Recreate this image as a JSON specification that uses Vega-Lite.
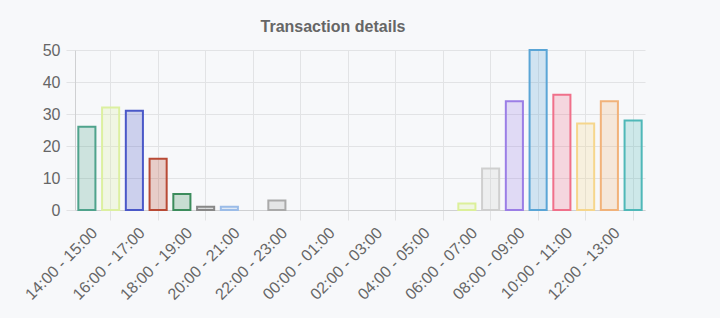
{
  "$schema": "https://vega.github.io/schema/vega-lite/v6.json",
  "width": 570,
  "height": 160,
  "autosize": {"type": "none"},
  "padding": {"left": 75, "top": 50, "right": 75, "bottom": 108},
  "background": "#f7f8fa",
  "config": {
    "view": {"stroke": null},
    "font": "Liberation Sans"
  },
  "title": {
    "text": "Transaction details",
    "anchor": "middle",
    "frame": "group",
    "dx": -27,
    "offset": 7,
    "fontSize": 16,
    "fontWeight": "bold",
    "color": "#666666",
    "font": "Liberation Sans"
  },
  "data": {
    "values": [
      {"slot": "14:00 - 15:00", "count": 26},
      {"slot": "15:00 - 16:00", "count": 32},
      {"slot": "16:00 - 17:00", "count": 31},
      {"slot": "17:00 - 18:00", "count": 16},
      {"slot": "18:00 - 19:00", "count": 5},
      {"slot": "19:00 - 20:00", "count": 1},
      {"slot": "20:00 - 21:00", "count": 1},
      {"slot": "21:00 - 22:00", "count": 0},
      {"slot": "22:00 - 23:00", "count": 3},
      {"slot": "23:00 - 00:00", "count": 0},
      {"slot": "00:00 - 01:00", "count": 0},
      {"slot": "01:00 - 02:00", "count": 0},
      {"slot": "02:00 - 03:00", "count": 0},
      {"slot": "03:00 - 04:00", "count": 0},
      {"slot": "04:00 - 05:00", "count": 0},
      {"slot": "05:00 - 06:00", "count": 0},
      {"slot": "06:00 - 07:00", "count": 2},
      {"slot": "07:00 - 08:00", "count": 13},
      {"slot": "08:00 - 09:00", "count": 34},
      {"slot": "09:00 - 10:00", "count": 50},
      {"slot": "10:00 - 11:00", "count": 36},
      {"slot": "11:00 - 12:00", "count": 27},
      {"slot": "12:00 - 13:00", "count": 34},
      {"slot": "13:00 - 14:00", "count": 28}
    ]
  },
  "mark": {"type": "bar", "strokeWidth": 2, "fillOpacity": 0.25},
  "encoding": {
    "x": {
      "field": "slot",
      "type": "nominal",
      "sort": null,
      "scale": {"paddingInner": 0.28, "paddingOuter": 0.14},
      "axis": {
        "title": null,
        "bandPosition": 0.5,
        "labelAngle": -45,
        "labelAlign": "right",
        "labelBaseline": "middle",
        "labelFontSize": 16,
        "labelColor": "#666666",
        "labelPadding": 10,
        "labelOffset": 8,
        "labelExpr": "toNumber(substring(datum.value,0,2)) % 2 == 0 ? datum.value : ''",
        "grid": true,
        "gridColor": "#e2e3e5",
        "gridWidth": 1,
        "gridOpacity": {"condition": {"test": "toNumber(substring(datum.value,0,2)) % 2 == 1", "value": 1}, "value": 0},
        "ticks": true,
        "tickSize": 10,
        "tickColor": "#e2e3e5",
        "tickOpacity": {"condition": {"test": "toNumber(substring(datum.value,0,2)) % 2 == 1", "value": 1}, "value": 0},
        "domainColor": "#cfd0d2",
        "labelOverlap": false
      }
    },
    "y": {
      "field": "count",
      "type": "quantitative",
      "scale": {"domain": [0, 50]},
      "axis": {
        "title": null,
        "values": [0, 10, 20, 30, 40, 50],
        "labelFontSize": 16,
        "labelColor": "#666666",
        "labelPadding": 6,
        "tickSize": 9,
        "tickColor": "#e2e3e5",
        "gridColor": "#e2e3e5",
        "domainColor": "#cfd0d2"
      }
    },
    "color": {
      "field": "slot",
      "type": "nominal",
      "sort": null,
      "legend": null,
      "scale": {
        "domain": ["14:00 - 15:00","15:00 - 16:00","16:00 - 17:00","17:00 - 18:00","18:00 - 19:00","19:00 - 20:00","20:00 - 21:00","21:00 - 22:00","22:00 - 23:00","23:00 - 00:00","00:00 - 01:00","01:00 - 02:00","02:00 - 03:00","03:00 - 04:00","04:00 - 05:00","05:00 - 06:00","06:00 - 07:00","07:00 - 08:00","08:00 - 09:00","09:00 - 10:00","10:00 - 11:00","11:00 - 12:00","12:00 - 13:00","13:00 - 14:00"],
        "range": ["#4fa38c","#dcf0a0","#4a58c8","#b84a35","#3c8c5c","#888888","#9bbce8","#cccccc","#aaaaaa","#cccccc","#cccccc","#cccccc","#cccccc","#cccccc","#cccccc","#cccccc","#dcf09a","#cfcfcf","#9b7ee6","#5aa5d6","#f0708a","#f6d68c","#f1b27a","#4fb8b8"]
      }
    },
    "stroke": {
      "field": "slot",
      "type": "nominal",
      "sort": null,
      "legend": null,
      "scale": {
        "domain": ["14:00 - 15:00","15:00 - 16:00","16:00 - 17:00","17:00 - 18:00","18:00 - 19:00","19:00 - 20:00","20:00 - 21:00","21:00 - 22:00","22:00 - 23:00","23:00 - 00:00","00:00 - 01:00","01:00 - 02:00","02:00 - 03:00","03:00 - 04:00","04:00 - 05:00","05:00 - 06:00","06:00 - 07:00","07:00 - 08:00","08:00 - 09:00","09:00 - 10:00","10:00 - 11:00","11:00 - 12:00","12:00 - 13:00","13:00 - 14:00"],
        "range": ["#4fa38c","#dcf0a0","#4a58c8","#b84a35","#3c8c5c","#888888","#9bbce8","#cccccc","#aaaaaa","#cccccc","#cccccc","#cccccc","#cccccc","#cccccc","#cccccc","#cccccc","#dcf09a","#cfcfcf","#9b7ee6","#5aa5d6","#f0708a","#f6d68c","#f1b27a","#4fb8b8"]
      }
    },
    "strokeOpacity": {
      "condition": {"test": "datum.count == 0", "value": 0},
      "value": 1
    }
  }
}
